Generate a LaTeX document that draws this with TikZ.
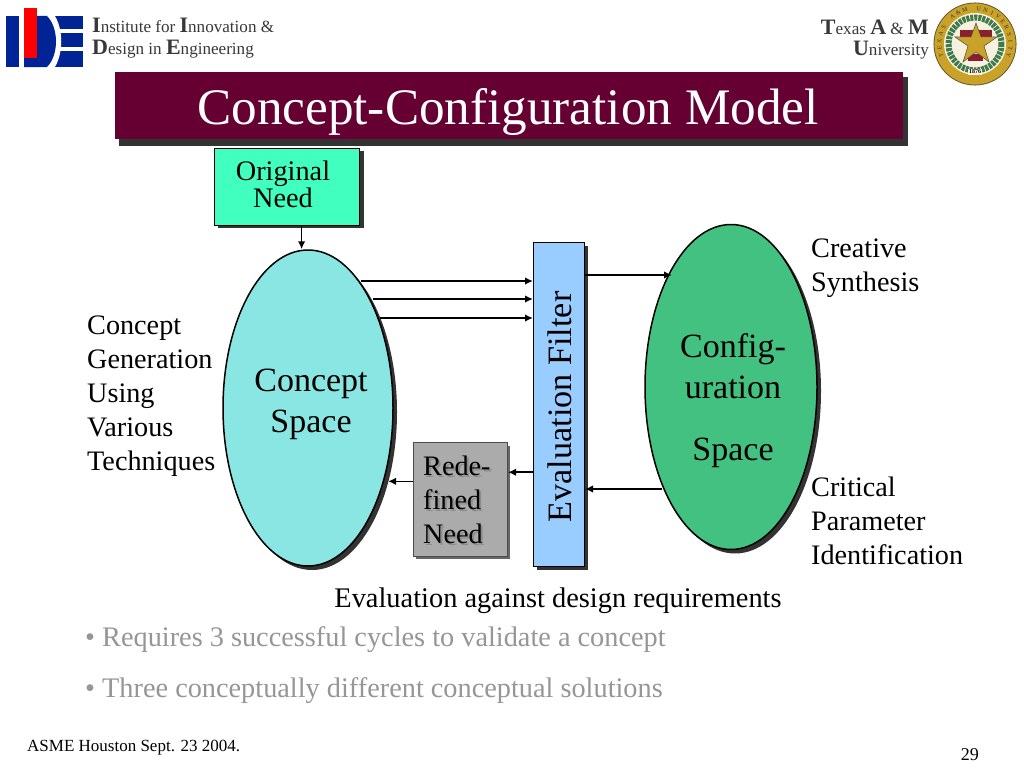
\documentclass[tikz,border=0pt]{standalone}
\usepackage{fontspec}
\setmainfont{Liberation Serif}
\usetikzlibrary{shapes.geometric,arrows.meta,calc}
\definecolor{titlebg}{HTML}{660033}
\definecolor{shadowgrey}{HTML}{333333}
\definecolor{mint}{HTML}{40FFBF}
\definecolor{cyanfill}{HTML}{8AE6E2}
\definecolor{greenfill}{HTML}{42C180}
\definecolor{bluefill}{HTML}{99CCFF}
\definecolor{greyfill}{HTML}{ABABAB}
\definecolor{idenavy}{HTML}{002395}
\definecolor{sealgold}{HTML}{C9A227}
\definecolor{sealgreen}{HTML}{3F7A4A}
\definecolor{sealred}{HTML}{8A1F2D}
\definecolor{bullgrey}{HTML}{969696}
\tikzset{
  x=1pt,y=-1pt,
  lab/.style={align=left,font=\fontsize{28.2}{34}\selectfont,inner sep=0pt,anchor=north west},
  spacelab/.style={align=center,font=\fontsize{34}{41}\selectfont,inner sep=0pt},
  arr/.style={-{Latex[length=8pt,width=7.5pt]},line width=1.6pt},
  bull/.style={font=\fontsize{28.3}{33}\selectfont,text=bullgrey,inner sep=0pt,anchor=west},
  hdr/.style={font=\fontsize{17.1}{20}\selectfont,text=black!78,inner sep=0pt},
  outline/.style={draw=black,line width=1.5pt,inner sep=0pt},
}
\newcommand{\bg}[1]{{\fontsize{22}{20}\selectfont\textbf{#1}}}
\begin{document}
\begin{tikzpicture}
\useasboundingbox (0,0) rectangle (1024,768);
\fill[white] (0,0) rectangle (1024,768);

% IDE logo
\fill[idenavy] (6,16) rectangle (19,67);
\fill[idenavy] (50,16) rectangle (83,29);
\fill[idenavy] (50,33) rectangle (83,47);
\fill[idenavy] (50,51) rectangle (83,67);
\fill[white] (44,13) -- (53,13) .. controls (64,28) and (64,55) .. (53,70) -- (44,70) -- cycle;
\fill[idenavy] (24,16) -- (47,16) .. controls (59,28) and (59,55) .. (47,67) -- (24,67) -- cycle;
\fill[red] (24,8) rectangle (37,58);
\node[hdr,anchor=west] (h1) at (92,25) {\bg{I}nstitute for \bg{I}nnovation \&};
\node[hdr,anchor=west] (h2) at (92,49) {\bg{D}esign in \bg{E}ngineering};
\node[hdr,anchor=east] (h3) at (929,27) {\bg{T}exas \bg{A} \& \bg{M}};
\node[hdr,anchor=east] (h4) at (929,50) {\bg{U}niversity};

% seal
\fill[sealgold] (975,44) circle (41.5);
\draw[black!70,line width=.6pt] (975,44) circle (41);
\foreach \c [count=\i] in {T,E,X,A,S,{ },A,\&,M,{ },U,N,I,V,E,R,S,I,T,Y}{
  \pgfmathsetmacro{\ang}{198-(\i-1)*11.4}
  \node[font=\fontsize{6}{6}\selectfont,text=black!80,inner sep=0pt,rotate=\ang-90]
    at ({975+35.5*cos(\ang)},{44-35.5*sin(\ang)}) {\c};
}
\fill[white!85!sealgold] (975,44) circle (31);
\draw[sealgreen,line width=6pt,dash pattern=on 3pt off 1pt] (975,44) circle (26.5);
\fill[white!85!sealgold] (975,44) circle (22);
\fill[sealred] (960,30) rectangle (992,38);
\fill[sealred] (968,54) rectangle (983,61);
\fill[sealgold,draw=black!70,line width=.5pt] (976,23) -- (981,37) -- (997,37) -- (984,46) -- (989,62) -- (976,52) -- (963,62) -- (968,46) -- (955,37) -- (971,37) -- cycle;
\node[font=\fontsize{6}{6}\selectfont\bfseries,fill=white!85!sealgold,inner sep=.6pt] (yr) at (975,72) {1876};

% title
\fill[shadowgrey] (119,77) rectangle (908,146);
\node[fill=titlebg,minimum width=788pt,minimum height=67pt,inner sep=0pt,anchor=north west] (titlebox) at (115,72) {};
\node[font=\fontsize{51.2}{51}\selectfont,text=white,inner sep=0pt] (title) at (508,112) {Concept-Configuration Model};

% original need
\fill[shadowgrey] (218,151) rectangle (364,228);
\node[outline,line width=1pt,fill=mint,minimum width=145pt,minimum height=77pt,anchor=north west] (orig) at (214,147.5) {};
\node[font=\fontsize{28.3}{27.5}\selectfont,align=center,inner sep=0pt] (origt) at (283,184.5) {Original\\Need};

% concept space
\fill[shadowgrey] (312,412) ellipse (85 and 158);
\node[ellipse,outline,fill=cyanfill,minimum width=170pt,minimum height=316pt] (cs) at (308,408) {};
\node[spacelab] (cst) at (311,404) {Concept\\Space};

% config space
\fill[shadowgrey] (735,391) ellipse (86 and 162.5);
\node[ellipse,outline,fill=greenfill,minimum width=172pt,minimum height=325pt] (cfg) at (731,387) {};
\node[font=\fontsize{34}{41}\selectfont,align=center,inner sep=0pt] (cfgt) at (733,366) {Config-\\uration};
\node[font=\fontsize{34}{41}\selectfont,inner sep=0pt] (cfgs) at (733,453) {Space};

% filter
\fill[shadowgrey] (537,246) rectangle (588,570);
\node[outline,line width=1pt,fill=bluefill,minimum width=51pt,minimum height=324pt,anchor=north west] (filt) at (533,242) {};
\node[font=\fontsize{34.2}{34}\selectfont,rotate=90,inner sep=0pt] (filtt) at (560,407) {Evaluation Filter};

% redefined
\fill[black!60] (416,446) rectangle (510,559);
\node[draw=black!70,line width=1pt,fill=greyfill,minimum width=94pt,minimum height=114pt,inner sep=0pt,anchor=north west] (red) at (413,442) {};
\node[lab,text=black!45] (reds) at (425,458) {Rede-\\fined\\Need};
\node[lab] (redt) at (423,456) {Rede-\\fined\\Need};

% connectors
\coordinate (oA) at ($(orig.south west)!0.6!(orig.south east)$);
\coordinate (rA) at ($(red.north east)!0.263!(red.south east)$);
\coordinate (rB) at ($(red.north west)!0.342!(red.south west)$);
\coordinate (csB) at ($(cs.center)+(80,73)$);
\coordinate (csA1) at ($(cs.center)+(53,-127)$);
\coordinate (csA2) at ($(cs.center)+(65,-109)$);
\coordinate (csA3) at ($(cs.center)+(72,-90)$);
\coordinate (cfgA) at ($(cfg.center)+(-59,-112)$);
\coordinate (cfgB) at ($(cfg.center)+(-69,102)$);
\draw[arr] (oA) -- (oA |- cs.north);
\draw[arr] (csA1) -- (csA1 -| filt.west);
\draw[arr] (csA2) -- (csA2 -| filt.west);
\draw[arr] (csA3) -- (csA3 -| filt.west);
\draw[arr] (filt.east |- cfgA) -- (cfgA);
\draw[arr] (cfgB) -- (cfgB -| filt.east);
\draw[arr] (rA -| filt.west) -- (rA);
\draw[arr] (rB) -- (rB -| csB);

% labels
\node[lab] (l1) at (87,316) {Concept\\Generation\\Using\\Various\\Techniques};
\node[lab] (l2) at (811,239) {Creative\\Synthesis};
\node[lab] (l3) at (811,477) {Critical\\Parameter\\Identification};
\node[font=\fontsize{28.4}{33}\selectfont,inner sep=0pt] (l4) at (558,601) {Evaluation against design requirements};
\node[bull] (b1t) at (85,640) {• Requires 3 successful cycles to validate a concept};
\node[bull] (b2t) at (85,691) {• Three conceptually different conceptual solutions};
\node[font=\fontsize{17}{20}\selectfont,inner sep=0pt,anchor=west] (foot) at (27,748) {ASME Houston Sept. 23 2004.};
\node[font=\fontsize{18}{20}\selectfont,inner sep=0pt,anchor=east] (pg) at (979,755) {29};
\end{tikzpicture}
\end{document}
